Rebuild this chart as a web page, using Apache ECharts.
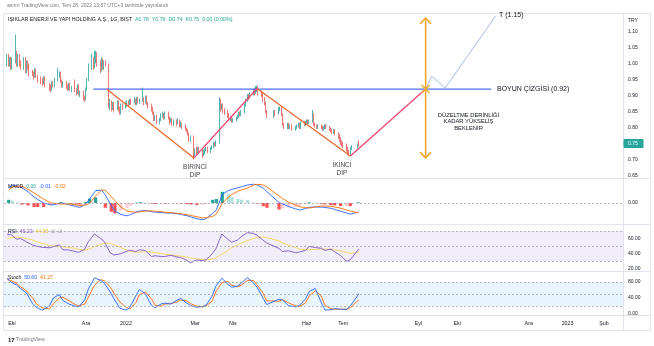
<!DOCTYPE html>
<html><head><meta charset="utf-8">
<script src="https://cdn.jsdelivr.net/npm/echarts@6/dist/echarts.min.js"></script>
<style>html,body{margin:0;padding:0;background:#fff}#c{width:654px;height:346px}</style>
</head><body><div id="c"></div>
<script>
// ---------- DATA ----------
const firstDay = '2021-09-27';
const lastDay = '2022-07-14';
const holidays = ['2021-10-29','2022-05-02','2022-05-03','2022-05-04','2022-05-19','2022-07-11','2022-07-12','2022-07-15'];
// daily candles [open, close, low, high]
const candles = [
[1.00,1.02,0.99,1.03],[1.02,1.00,0.99,1.03],[1.00,1.01,0.99,1.02],[1.01,0.99,0.98,1.02],[0.99,1.01,0.98,1.02],
[1.01,1.03,1.00,1.09],[1.03,1.00,0.99,1.04],[1.00,1.02,0.99,1.03],[1.02,1.00,0.99,1.03],[1.00,0.99,0.98,1.01],
[0.99,1.01,0.98,1.02],[1.01,0.98,0.97,1.02],[0.98,1.00,0.97,1.01],[1.00,0.99,0.98,1.01],[0.99,0.97,0.96,1.00],
[0.97,0.965,0.96,0.98],[0.965,0.96,0.95,0.975],[0.96,0.98,0.955,0.985],[0.98,0.96,0.955,0.985],[0.96,0.95,0.94,0.965],
[0.95,0.945,0.935,0.96],[0.945,0.94,0.93,0.955],[0.94,0.955,0.935,0.96],[0.955,0.93,0.925,0.96],
[0.93,0.925,0.915,0.94],[0.925,0.92,0.91,0.935],[0.92,0.94,0.915,0.945],[0.94,0.93,0.925,0.945],[0.93,0.95,0.925,0.955],
[0.95,0.965,0.945,0.985],[0.965,0.97,0.955,0.975],[0.97,0.945,0.94,0.975],[0.945,0.93,0.925,0.95],[0.93,0.94,0.925,0.945],
[0.94,0.93,0.92,0.945],[0.93,0.92,0.915,0.935],[0.92,0.935,0.915,0.94],[0.935,0.92,0.915,0.94],[0.92,0.925,0.91,0.93],
[0.925,0.92,0.91,0.95],[0.92,0.91,0.90,0.925],[0.91,0.93,0.905,0.935],[0.93,0.905,0.90,0.935],[0.905,0.91,0.895,0.915],
[0.91,0.895,0.885,0.915],[0.895,0.89,0.88,0.90],[0.89,0.92,0.885,0.925],[0.92,0.95,0.915,0.955],[0.95,0.99,0.945,1.00],
[0.99,1.01,0.98,1.03],[1.01,0.99,0.98,1.02],[0.99,1.02,0.985,1.04],[1.02,1.03,1.00,1.04],[1.03,1.00,0.99,1.035],
[1.00,0.98,0.97,1.01],[0.98,1.01,0.975,1.02],[1.01,0.99,0.98,1.015],[0.99,1.00,0.98,1.01],[1.00,0.995,0.99,1.01],
[0.995,0.87,0.86,1.00],[0.87,0.88,0.855,0.89],[0.88,0.86,0.85,0.885],[0.86,0.875,0.855,0.88],[0.875,0.86,0.85,0.88],
[0.86,0.88,0.855,0.885],[0.88,0.86,0.85,0.885],[0.86,0.845,0.84,0.865],[0.845,0.87,0.84,0.875],[0.87,0.865,0.855,0.875],
[0.865,0.87,0.86,0.88],[0.87,0.88,0.865,0.885],[0.88,0.875,0.865,0.885],[0.875,0.885,0.87,0.89],[0.885,0.88,0.87,0.89],
[0.88,0.885,0.875,0.895],[0.885,0.875,0.87,0.89],[0.875,0.89,0.87,0.895],[0.89,0.88,0.875,0.895],[0.88,0.885,0.875,0.89],
[0.885,0.89,0.88,0.925],[0.89,0.88,0.87,0.895],[0.88,0.895,0.875,0.90],[0.895,0.875,0.87,0.90],[0.875,0.87,0.86,0.88],
[0.87,0.86,0.85,0.875],[0.86,0.845,0.84,0.865],[0.845,0.83,0.82,0.85],[0.83,0.835,0.82,0.84],[0.835,0.82,0.81,0.84],
[0.82,0.825,0.81,0.83],[0.825,0.835,0.82,0.845],[0.835,0.84,0.83,0.85],[0.84,0.83,0.825,0.845],[0.83,0.845,0.825,0.85],
[0.845,0.83,0.825,0.85],[0.83,0.82,0.81,0.835],[0.82,0.825,0.815,0.83],[0.825,0.81,0.805,0.83],[0.81,0.82,0.805,0.825],
[0.82,0.815,0.805,0.825],[0.815,0.82,0.81,0.83],[0.82,0.805,0.80,0.825],[0.805,0.81,0.80,0.82],[0.81,0.80,0.795,0.815],
[0.80,0.795,0.79,0.81],[0.795,0.79,0.785,0.80],[0.79,0.78,0.775,0.795],[0.78,0.765,0.755,0.785],[0.765,0.77,0.755,0.775],
[0.77,0.72,0.70,0.775],[0.72,0.73,0.71,0.735],[0.73,0.725,0.715,0.74],[0.725,0.735,0.72,0.74],[0.735,0.73,0.72,0.74],
[0.73,0.715,0.705,0.735],[0.715,0.72,0.71,0.73],[0.72,0.73,0.715,0.735],[0.73,0.735,0.725,0.74],[0.735,0.725,0.72,0.74],
[0.725,0.735,0.72,0.74],[0.735,0.74,0.73,0.745],[0.74,0.75,0.735,0.755],[0.75,0.745,0.74,0.755],[0.745,0.755,0.74,0.76],
[0.755,0.885,0.75,0.895],[0.885,0.86,0.85,0.89],[0.86,0.87,0.855,0.875],[0.87,0.855,0.845,0.875],[0.855,0.85,0.84,0.86],
[0.85,0.84,0.83,0.855],[0.84,0.825,0.82,0.845],[0.825,0.83,0.82,0.835],[0.83,0.82,0.815,0.835],[0.82,0.825,0.815,0.83],
[0.825,0.83,0.82,0.835],[0.83,0.835,0.825,0.84],[0.835,0.845,0.83,0.85],[0.845,0.84,0.835,0.85],[0.84,0.85,0.835,0.855],
[0.85,0.87,0.845,0.875],[0.87,0.885,0.865,0.89],[0.885,0.90,0.88,0.905],[0.90,0.895,0.885,0.905],[0.895,0.905,0.89,0.91],
[0.905,0.915,0.90,0.92],[0.915,0.91,0.90,0.925],[0.91,0.92,0.905,0.93],[0.92,0.925,0.91,0.93],[0.925,0.91,0.90,0.93],
[0.91,0.905,0.895,0.915],[0.905,0.89,0.88,0.91],[0.89,0.875,0.87,0.895],[0.875,0.85,0.845,0.88],[0.85,0.835,0.83,0.855],
[0.835,0.85,0.83,0.855],[0.85,0.845,0.835,0.855],
[0.845,0.855,0.84,0.865],[0.855,0.86,0.85,0.865],[0.86,0.84,0.835,0.865],[0.84,0.81,0.805,0.845],[0.81,0.80,0.795,0.815],
[0.80,0.81,0.795,0.815],[0.81,0.80,0.795,0.815],[0.80,0.805,0.795,0.81],[0.805,0.795,0.79,0.81],
[0.795,0.80,0.79,0.805],[0.80,0.805,0.795,0.81],[0.805,0.81,0.80,0.815],[0.81,0.80,0.795,0.815],[0.80,0.815,0.795,0.82],
[0.815,0.81,0.805,0.82],[0.81,0.815,0.805,0.82],[0.815,0.82,0.81,0.825],[0.82,0.815,0.81,0.825],[0.815,0.82,0.81,0.825],
[0.82,0.84,0.815,0.855],[0.84,0.81,0.805,0.845],[0.81,0.805,0.80,0.815],[0.805,0.80,0.795,0.81],[0.80,0.805,0.795,0.81],
[0.805,0.80,0.795,0.81],[0.80,0.795,0.79,0.805],[0.795,0.80,0.79,0.805],[0.80,0.805,0.795,0.81],[0.805,0.80,0.795,0.81],
[0.80,0.795,0.79,0.805],[0.795,0.79,0.785,0.80],[0.79,0.785,0.78,0.795],[0.785,0.79,0.78,0.795],[0.79,0.78,0.775,0.795],
[0.78,0.775,0.765,0.785],[0.775,0.765,0.755,0.78],[0.765,0.755,0.745,0.77],[0.755,0.75,0.74,0.76],[0.75,0.745,0.735,0.755],
[0.745,0.735,0.725,0.75],[0.735,0.725,0.715,0.74],[0.725,0.72,0.71,0.73],[0.72,0.735,0.715,0.74],[0.735,0.74,0.73,0.745],
[0.74,0.745,0.735,0.75],[0.76,0.75,0.74,0.76]
];
// indicators, read every 3rd trading day
const sampleStep = 3;
const macdLine = [0.019,0.0225,0.021,0.019,0.014,0.0075,0.0045,0,-0.0025,-0.002,0,-0.0006,-0.0025,-0.0044,-0.0056,-0.001,0.005,0.0156,0.016,0.01,-0.003,-0.01,-0.0144,-0.016,-0.0144,-0.011,-0.01,-0.0094,-0.011,-0.0115,-0.012,-0.0125,-0.0125,-0.0135,-0.0144,-0.016,-0.0175,-0.0197,-0.021,-0.019,-0.013,-0.0088,0.011,0.0156,0.017,0.019,0.0204,0.0225,0.0235,0.0225,0.0185,0.014,0.0006,-0.0013,-0.0044,-0.0075,-0.0088,-0.0069,-0.0054,-0.005,-0.0051,-0.0056,-0.0066,-0.008,-0.0103,-0.0125,-0.0138,-0.0115];
const signalLine = [0.016,0.02,0.021,0.021,0.017,0.0128,0.0095,0.0048,0,-0.0004,-0.0013,-0.0013,-0.0013,-0.0025,-0.0034,-0.0023,-0.0006,0.0088,0.016,0.016,0.008,0.003,-0.005,-0.01,-0.011,-0.0115,-0.0109,-0.01,-0.01,-0.0103,-0.011,-0.0115,-0.012,-0.013,-0.0135,-0.0146,-0.0156,-0.0172,-0.0188,-0.0181,-0.0169,-0.0138,-0.0006,0.0075,0.0106,0.015,0.0163,0.0188,0.0225,0.0234,0.0225,0.02,0.0088,0.0056,0.001,-0.0029,-0.0048,-0.0056,-0.0063,-0.005,-0.0038,-0.0038,-0.004,-0.005,-0.0065,-0.0088,-0.01,-0.0123];
const macdHist = [0.004,0.003,0.0005,-0.002,-0.003,-0.005,-0.005,-0.005,-0.003,-0.002,0.001,0.0007,-0.001,-0.002,-0.002,0.0013,0.0056,0.007,0.001,-0.006,-0.011,-0.013,-0.0094,-0.006,-0.0034,0.0005,0.001,0.0006,-0.001,-0.0012,-0.001,-0.001,-0.0005,-0.0005,-0.001,-0.0014,-0.0019,-0.0025,-0.0022,-0.001,0.004,0.005,0.014,0.011,0.0075,0.005,0.0041,0.0037,0.001,-0.0009,-0.004,-0.006,-0.0082,-0.0069,-0.0054,-0.0046,-0.004,-0.0013,0.0009,0.0005,-0.0013,-0.0018,-0.0026,-0.003,-0.0038,-0.0037,-0.0038,0.0008];
const rsiLine = [65.5,65.5,59,60,55.5,51.3,49.8,48.2,47.7,49,51.5,45,44.7,42.7,41.6,45.7,56,66,60,56,41,38,39.4,42.4,44.5,42.5,45,44,36,37,36,36,37.6,35.3,34.6,30.9,27.5,31.3,30.7,31.5,39.7,46,66,58.8,55,58,62.4,67.8,66.8,64.4,57.7,54,46.8,42.7,43.6,41,41.9,44.1,49.5,47.9,47,44,46,42.3,37,29.6,31.8,46.2];
const rsiMA = [60,61,62,61.5,60,58,56,53.5,51,50,49.5,49,48,47,45.5,44.5,45.5,49,52,54,53.5,51.5,48.5,45,43,42,42,42.5,42,41,40,39,38,37,36.5,35.5,34,33,32,31.5,32.5,34,39,44,48,51,54,57,60,61.5,62,61,57,54,51,48,46,45,45,45.5,46,46,45.5,45,43.5,41.5,40,42];
const stochK = [90,80,72,63.6,52.6,25.6,16.7,9.7,20.6,40,48.5,33.6,25,19.5,17.7,35.7,62.6,90.5,84,77.2,55.2,38.3,14.2,10,15.8,44.8,61.4,50.6,21,15.8,25.3,27.1,25,34.4,38.8,27.6,21.3,17,18.4,22.2,44.7,69.3,89.5,74.6,67,69.6,77.2,91,77.8,67.2,39.5,23.6,37.1,35,20.6,17.8,21.5,37.5,56,63.8,28.5,10,10.7,13.4,11.9,11.5,20.5,50.6];
const stochD = [86,84,76,68,58,40,26,15,13,25,40,42,33,24,20,25,42,72,86,83,68,52,30,17,12,28,48,55,38,22,20,25,26,30,35,33,26,20,18,20,32,55,78,82,72,68,72,84,84,73,52,33,32,36,28,20,19,28,45,58,45,22,13,12,12,12,16,36];
// axis ticks
const xTickDates = ['2021-10-01','2021-12-01','2022-01-03','2022-03-01','2022-04-01','2022-06-01','2022-07-01','2022-09-01','2022-10-03','2022-12-01','2023-01-02','2023-02-01'];
const xTickLabels = ['Eki','Ara','2022','Mar','Nis','Haz','Tem','Eyl','Eki','Ara','2023','Şub'];
const priceTicks = [0.65,0.70,0.80,0.85,0.90,0.95,1.00,1.05,1.10];
const lastPrice = 0.75;
const macdTicks = [0];
const rsiTicks = [20,40,60];
const stochTicks = [0,40,80];
// drawing annotations (date, price)
const neckline = [['2021-12-07',0.92],['2022-10-31',0.92]];
const fall1 = [['2021-12-18',0.92],['2022-02-28',0.705]];
const rise1 = [['2022-02-28',0.705],['2022-04-21',0.922]];
const fall2 = [['2022-04-21',0.922],['2022-07-07',0.711]];
const rise2 = [['2022-07-07',0.711],['2022-09-07',0.92]];
const projection = [['2022-09-07',0.92],['2022-09-12',0.961],['2022-09-23',0.923],['2022-11-04',1.15]];
const arrowDate = '2022-09-07';
const arrowRange = [0.705,1.142];

// ---------- BUILD ----------
function ts(s){const p=s.split('-').map(Number);return new Date(p[0],p[1]-1,p[2]).getTime();}
function key(d){return d.getFullYear()+'-'+String(d.getMonth()+1).padStart(2,'0')+'-'+String(d.getDate()).padStart(2,'0');}
const days=[];
{let t=new Date(ts(firstDay));const end=ts(lastDay);
 while(t.getTime()<=end){const w=t.getDay();if(w!==0&&w!==6&&holidays.indexOf(key(t))<0)days.push(t.getTime());t=new Date(t.getFullYear(),t.getMonth(),t.getDate()+1);}}
const candleData = candles.map((c,i)=>[days[i],c[0],c[1],c[2],c[3]]);
const sampled = arr => arr.map((v,k)=>[days[k*sampleStep],v]);
const toPts = arr => arr.map(p=>[ts(p[0]),p[1]]);
const axisMin = new Date(2021,8,24,10).getTime();
const axisMax = new Date(2023,1,16,17).getTime();
const DAY=86400000;
const aT=ts(arrowDate);
const FONT='"Liberation Sans", Arial, sans-serif';

const grids=[
 {left:4,right:31,top:15,height:163},
 {left:4,right:31,top:179,height:45},
 {left:4,right:31,top:225,height:46},
 {left:4,right:31,top:272,height:43}
];
const xAxes=grids.map((g,i)=>({type:'time',gridIndex:i,min:axisMin,max:axisMax,
  axisLine:{show:false},axisTick:{show:false},splitLine:{show:false},axisLabel:{show:false}}));
function yax(i,min,max,ticks,fmt){return {type:'value',gridIndex:i,position:'right',min,max,
  axisLine:{show:false},axisTick:{show:false},splitLine:{show:false},
  axisLabel:{customValues:ticks,formatter:fmt,fontSize:5,color:'#131722',fontFamily:FONT,margin:5}};}
const yAxes=[
 yax(0,0.6422,1.1516,priceTicks,v=>v.toFixed(2)),
 yax(1,-0.02625,0.03,macdTicks,v=>v.toFixed(2)),
 yax(2,16.67,78,rsiTicks,v=>v.toFixed(2)),
 yax(3,-2.5,105,stochTicks,v=>v.toFixed(2))
];
function seg(pts,color,width,type){return {type:'line',xAxisIndex:0,yAxisIndex:0,data:pts,symbol:'none',silent:true,z:5,
  lineStyle:{color,width,type:type||'solid'},animation:false};}
const dash={color:'#a3a6af',width:0.8,type:[2,2]};
function hl(vals){return {silent:true,symbol:['none','none'],label:{show:false},lineStyle:dash,data:vals.map(v=>({yAxis:v}))};}

const orange='#e8692d', pink='#ee4470', amber='#f5a62b';
const series=[
 {type:'candlestick',xAxisIndex:0,yAxisIndex:0,data:candleData,encode:{x:0,y:[1,2,3,4]},barWidth:1.3,
  itemStyle:{color:'#26a69a',color0:'#ef5350',borderColor:'#26a69a',borderColor0:'#ef5350',borderWidth:0.8}},
 seg(toPts(neckline),'#4d6ef2',1.3),
 seg(toPts(fall1),orange,1.3),
 seg(toPts(rise1),pink,1.3),
 seg(toPts(fall2),orange,1.3),
 seg(toPts(rise2),pink,1.3),
 seg(toPts(projection),'#a9b9ec',1),
 seg([[aT,arrowRange[0]],[aT,arrowRange[1]]],amber,1.6),
 seg([[aT-4.5*DAY,arrowRange[1]-0.018],[aT,arrowRange[1]],[aT+4.5*DAY,arrowRange[1]-0.018]],amber,1.6),
 seg([[aT-4.5*DAY,arrowRange[0]+0.018],[aT,arrowRange[0]],[aT+4.5*DAY,arrowRange[0]+0.018]],amber,1.6),
 seg([[aT-3.3*DAY,0.9325],[aT+3.3*DAY,0.9075]],amber,1.4),
 seg([[aT-3.3*DAY,0.9075],[aT+3.3*DAY,0.9325]],amber,1.4),
 {type:'bar',xAxisIndex:1,yAxisIndex:1,data:sampled(macdHist),barWidth:3.2,
  itemStyle:{color:p=>{const k=p.dataIndex,v=macdHist[k],pv=k>0?macdHist[k-1]:v;
     return v>=0?(v>=pv?'#26a69a':'#b2dfdb'):(v<=pv?'#ff5252':'#ffcdd2');}},
  markLine:hl([0])},
 {type:'line',xAxisIndex:1,yAxisIndex:1,data:sampled(macdLine),symbol:'none',lineStyle:{color:'#2962ff',width:0.9}},
 {type:'line',xAxisIndex:1,yAxisIndex:1,data:sampled(signalLine),symbol:'none',lineStyle:{color:'#ff6d00',width:0.9}},
 {type:'line',xAxisIndex:2,yAxisIndex:2,data:sampled(rsiMA),symbol:'none',lineStyle:{color:'#f5d657',width:0.9}},
 {type:'line',xAxisIndex:2,yAxisIndex:2,data:sampled(rsiLine),symbol:'none',lineStyle:{color:'#7e57c2',width:0.9},
  markArea:{silent:true,itemStyle:{color:'rgba(126,87,194,0.1)'},data:[[{yAxis:30},{yAxis:70}]]},
  markLine:hl([70,50,30])},
 {type:'line',xAxisIndex:3,yAxisIndex:3,data:sampled(stochD),symbol:'none',lineStyle:{color:'#ff6d00',width:0.9}},
 {type:'line',xAxisIndex:3,yAxisIndex:3,data:sampled(stochK),symbol:'none',lineStyle:{color:'#2962ff',width:0.9},
  markArea:{silent:true,itemStyle:{color:'rgba(33,150,243,0.1)'},data:[[{yAxis:20},{yAxis:80}]]},
  markLine:hl([80,50,20])}
];

function txt(x,y,text,size,color,align,extra){
  return {type:'text',x,y,silent:true,z:100,style:Object.assign({text,fill:color||'#131722',
    font:(size||5)+'px '+FONT,textAlign:align||'left',align:align||'left',
    textVerticalAlign:'middle',verticalAlign:'middle'},extra||{})};
}
function rich(x,y,text,richDef){
  return {type:'text',x,y,silent:true,z:100,style:{text,rich:richDef,font:'5.2px '+FONT,fill:'#131722',
    textAlign:'left',align:'left',textVerticalAlign:'middle',verticalAlign:'middle'}};
}
const fs=s=>s+'px '+FONT;
const ln=(x1,y1,x2,y2)=>({type:'line',silent:true,z:50,shape:{x1,y1,x2,y2},style:{stroke:'#e0e3eb',lineWidth:1}});
const graphic=[
 {type:'rect',silent:true,z:50,shape:{x:3.5,y:13.5,width:647,height:317},style:{fill:'none',stroke:'#e0e3eb',lineWidth:1}},
 ln(3.5,178.5,650.5,178.5), ln(3.5,224.5,650.5,224.5), ln(3.5,271.5,650.5,271.5), ln(3.5,315.5,650.5,315.5),
 ln(623.5,13.5,623.5,330.5),
 txt(7,6,'asırın TradingView.com, Tem 28, 2022 13:57 UTC+3 tarihinde yayınlandı',5,'#787b86'),
 rich(8,20,'{n|IŞIKLAR ENERJİ VE YAPI HOLDİNG A.Ş., 1G, BIST}  {v|A0.76}  {v|Y0.76}  {v|D0.74}  {v|K0.75}  {v|0.00 (0.00%)}',
   {n:{fill:'#131722',font:fs(5.3)},v:{fill:'#26a69a',font:fs(5.3)}}),
 txt(628,21,'TRY',5,'#131722'),
 rich(8,187,'{n|MACD}  {g|0.00}  {b|-0.01}  {o|-0.02}',
   {n:{fill:'#131722',font:fs(5.2)},g:{fill:'#22ab94',font:fs(5.2)},b:{fill:'#2962ff',font:fs(5.2)},o:{fill:'#ff6d00',font:fs(5.2)}}),
 rich(8,232,'{n|RSI}  {p|46.23}  {y|44.95}  {x|∅  ∅}',
   {n:{fill:'#131722',font:fs(5.2)},p:{fill:'#7e57c2',font:fs(5.2)},y:{fill:'#e8c13a',font:fs(5.2)},x:{fill:'#787b86',font:fs(5.2)}}),
 rich(8,278,'{n|Stoch}  {b|50.60}  {o|41.27}',
   {n:{fill:'#131722',font:fs(5.2)},b:{fill:'#2962ff',font:fs(5.2)},o:{fill:'#ff6d00',font:fs(5.2)}}),
 txt(497,89,'BOYUN ÇİZGİSİ (0.92)',7,'#131722'),
 txt(499,15.5,'T (1.15)',7,'#131722'),
 txt(468.5,121.7,'DÜZELTME DERİNLİĞİ\nKADAR YÜKSELİŞ\nBEKLENİR',5.8,'#131722','center',{lineHeight:6.6}),
 txt(195,171,'BİRİNCİ\nDİP',6.5,'#434651','center',{lineHeight:8}),
 txt(342,169.5,'İKİNCİ\nDİP',6.5,'#434651','center',{lineHeight:8}),
 rich(8,340,'{l|17} {t|TradingView}',{l:{fill:'#131722',font:'bold 6px '+FONT},t:{fill:'#787b86',font:fs(5.2)}})
];

const chart=echarts.init(document.getElementById('c'),null,{renderer:'canvas'});
chart.setOption({animation:false,backgroundColor:'#ffffff',grid:grids,xAxis:xAxes,yAxis:yAxes,series,graphic});
// time-axis labels and last-price tag placed through the axis scales
const extra = xTickDates.map((d,i)=>{
  const px = chart.convertToPixel({xAxisIndex:3}, ts(d));
  return txt(px,324,xTickLabels[i],5.3,'#131722','center');
});
const py = chart.convertToPixel({yAxisIndex:0}, lastPrice);
extra.push({type:'rect',silent:true,z:110,shape:{x:623.5,y:py-4.5,width:20,height:9,r:1},style:{fill:'#26a69a'}});
extra.push(txt(628,py+0.3,lastPrice.toFixed(2),5,'#ffffff','left',{}));
extra[extra.length-1].z=111;
chart.setOption({graphic: graphic.concat(extra)}, {replaceMerge:['graphic']});
</script></body></html>
